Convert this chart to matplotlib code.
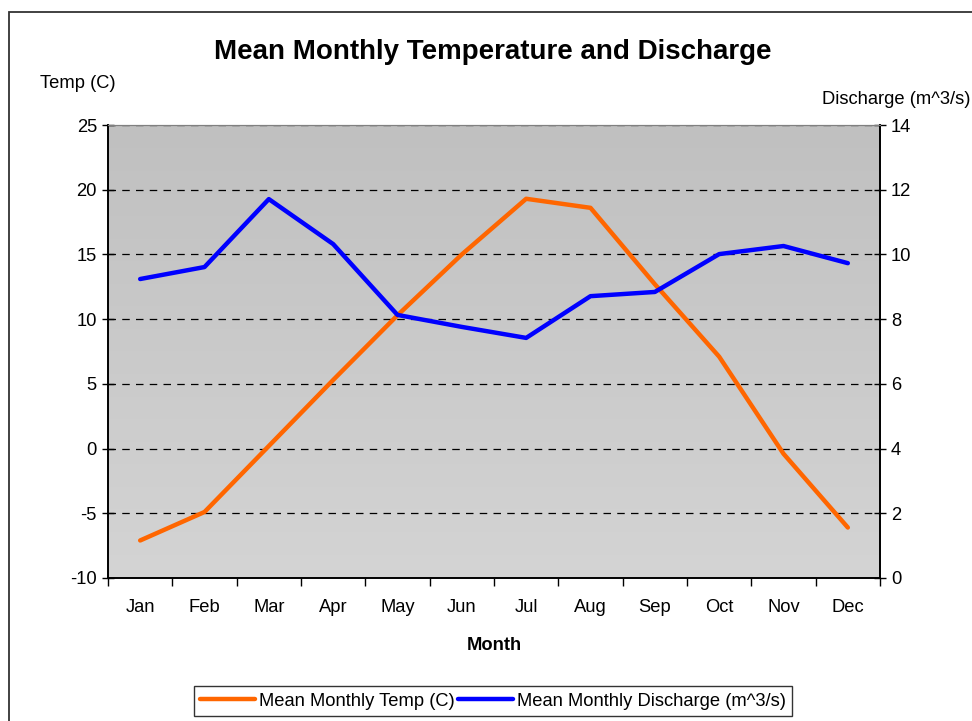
import numpy as np
import matplotlib
matplotlib.use('Agg')
import matplotlib.pyplot as plt
from matplotlib.patches import Rectangle

plt.rcParams['font.family'] = ['Liberation Sans', 'DejaVu Sans']
plt.rcParams['axes.unicode_minus'] = False

# data
months = ['Jan', 'Feb', 'Mar', 'Apr', 'May', 'Jun',
          'Jul', 'Aug', 'Sep', 'Oct', 'Nov', 'Dec']
temp = [-7.1, -4.9, 0.2, 5.3, 10.3, 15.0, 19.3, 18.6, 12.7, 7.1, -0.4, -6.1]
discharge = [9.24, 9.61, 11.71, 10.32, 8.13, 7.76, 7.42, 8.71, 8.84, 10.01, 10.26, 9.73]

temp_ticks = [-10, -5, 0, 5, 10, 15, 20, 25]
dis_ticks = [0, 2, 4, 6, 8, 10, 12, 14]

fs = 13.2

fig = plt.figure(figsize=(9.72, 7.21), dpi=100)
ax = fig.add_axes([108/972, 1 - 578/721, 772/972, 453/721])
ax2 = ax.twinx()

x = np.arange(len(months))

# gradient background of the plot area
grad = np.linspace(0, 1, 256).reshape(-1, 1)
ax.imshow(grad, extent=[-0.5, 11.5, -10, 25], aspect='auto', origin='upper',
          cmap=matplotlib.colors.LinearSegmentedColormap.from_list('bg', ['#c0c0c0', '#d4d4d4']),
          zorder=0)
ax.set_facecolor('none')

ax.set_xlim(-0.5, 11.5)
ax.set_ylim(-10, 25)
ax2.set_ylim(0, 14)
ax.set_yticks(temp_ticks)
ax2.set_yticks(dis_ticks)

ax.grid(axis='y', color='black', linestyle=(0, (6, 5)), linewidth=0.9)
ax.set_axisbelow(False)

ax.plot(x, temp, color='#ff6600', lw=3.2, solid_capstyle='round', zorder=3,
        label='Mean Monthly Temp (C)')
ax2.plot(x, discharge, color='#0000ff', lw=3.2, solid_capstyle='round', zorder=3,
         label='Mean Monthly Discharge (m^3/s)')

# category ticks between months
ax.set_xticks(x)
ax.set_xticklabels(months, fontsize=fs)
ax.set_xticks(np.arange(-0.5, 12, 1), minor=True)
ax.tick_params(axis='x', which='major', length=0, pad=15)
ax.tick_params(axis='x', which='minor', length=6, direction='out', width=1)
ax.tick_params(axis='y', direction='inout', length=8, width=1, labelsize=fs, pad=4)
ax2.tick_params(axis='y', direction='inout', length=8, width=1, labelsize=fs, pad=4)

for a in (ax, ax2):
    a.spines['top'].set_color('#808080')
    a.spines['left'].set_linewidth(1.2)
    a.spines['right'].set_linewidth(1.2)
    a.spines['bottom'].set_linewidth(1.2)

ax.set_xlabel('Month', fontsize=fs, fontweight='bold', labelpad=15)

fig.text(493/972, 1 - 52/721, 'Mean Monthly Temperature and Discharge',
         ha='center', va='center', fontsize=20, fontweight='bold')
fig.text(40/972, 1 - 83/721, 'Temp (C)', ha='left', va='center', fontsize=fs)
fig.text(970/972, 1 - 99/721, 'Discharge (m^3/s)', ha='right', va='center', fontsize=fs)

h1, l1 = ax.get_legend_handles_labels()
h2, l2 = ax2.get_legend_handles_labels()
leg = fig.legend(h1 + h2, l1 + l2, loc='center', bbox_to_anchor=(493/972, 1 - 701/721),
                 ncol=2, fontsize=fs, frameon=True, fancybox=False, handlelength=3,
                 handletextpad=0.2, columnspacing=0.2, borderpad=0.35)
leg.get_frame().set_edgecolor('black')
leg.get_frame().set_linewidth(1)

# outer chart border
fig.patches.append(Rectangle((9/972, -0.05), 1.2, 1.05 - 12/721, transform=fig.transFigure,
                             fill=False, edgecolor='#333333', linewidth=1.3))

fig.savefig('out.png', dpi=100)
